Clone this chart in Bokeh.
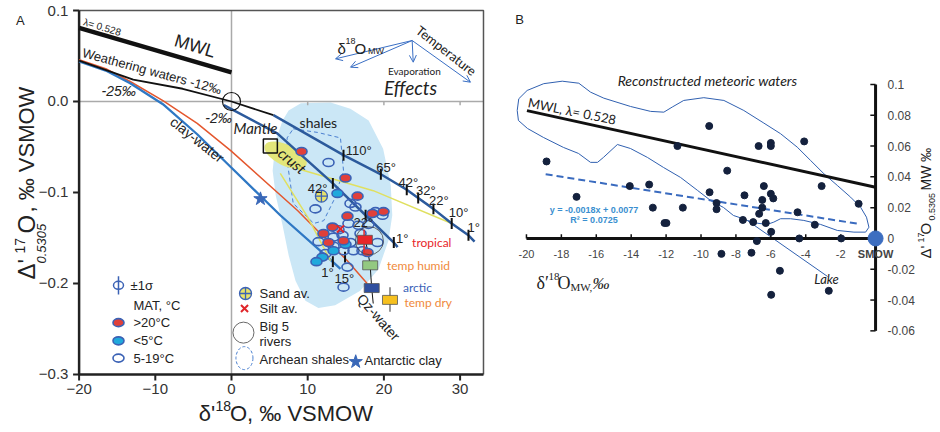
from math import pi
from bokeh.plotting import figure
from bokeh.models import Label, Arrow, OpenHead, ColumnDataSource
from bokeh.layouts import row
from bokeh.core.properties import value
from bokeh.embed import file_html
from bokeh.resources import INLINE

SANS = "Liberation Sans"
CAL = "Lato"
SERIF = "Liberation Serif"
DARKBLUE = "#2c5a9c"
RINGBLUE = "#3b62b5"

# ------------------------------------------------------------------ Panel A data
a_xmin, a_xmax, a_ymin, a_ymax = -20.0, 33.07, -0.3, 0.1
a_xticks = [-20, -10, 0, 10, 20, 30]
a_xlabels = ["\u221220", "\u221210", "0", "10", "20", "30"]
a_yticks = [-0.3, -0.2, -0.1, 0.0, 0.1]
a_ylabels = ["\u22120.3", "\u22120.2", "\u22120.1", "0.0", "0.1"]

mwl_x = [-20.0, 0.0]
mwl_y = [0.081, 0.032]

weather_x = [-20.0, -12.9, -6.4, 0.0, 5.5]
weather_y = [0.045, 0.024, 0.014, 0.0, -0.015]

upper_x = [5.5, 14.7, 19.6, 23.0, 24.5, 26.5, 28.9, 31.1, 31.9]
upper_y = [-0.015, -0.059, -0.080, -0.097, -0.106, -0.118, -0.134, -0.147, -0.154]
upper_tick_x = [14.7, 19.6, 23.0, 24.5, 26.5, 28.9, 31.1]
upper_tick_y = [-0.059, -0.080, -0.097, -0.106, -0.118, -0.134, -0.147]
upper_tick_lab = ["110°", "65°", "42°", "32°", "22°", "10°", "1°"]
upper_lab_x = [16.7, 20.3, 23.2, 25.5, 27.2, 29.8, 31.8]
upper_lab_y = [-0.054, -0.072, -0.089, -0.098, -0.109, -0.122, -0.138]

mid_x = [-1.0, 6.0, 13.3, 17.6, 21.3, 21.8]
mid_y = [-0.004, -0.035, -0.090, -0.125, -0.155, -0.160]
mid_tick_x = [13.3, 17.6, 21.3]
mid_tick_y = [-0.090, -0.125, -0.155]
mid_tick_lab = ["42°", "22°", "1°"]
mid_lab_x = [11.3, 17.3, 22.4]
mid_lab_y = [-0.096, -0.133, -0.151]

red_line_x = [-20.0, -16.5, -13.3, -9.0, -4.5, -0.1, 8.7, 15.2, 17.8]
red_line_y = [0.046, 0.036, 0.022, 0.001, -0.024, -0.054, -0.120, -0.175, -0.200]
clay_x = [-20.0, -16.5, -13.3, -9.0, -4.5, -0.1, 6.4, 13.4, 14.3]
clay_y = [0.044, 0.034, 0.020, -0.003, -0.036, -0.072, -0.125, -0.177, -0.184]
low_tick_x = [13.3, 14.9]
low_tick_y = [-0.176, -0.171]
low_tick_lab = ["1°", "15°"]
low_lab_x = [12.6, 14.8]
low_lab_y = [-0.188, -0.195]

yel1_x = [8.7, 18.6, 28.9]
yel1_y = [-0.074, -0.098, -0.134]
yel2_x = [6.4, 10.0, 13.0]
yel2_y = [-0.079, -0.127, -0.175]

shade_x = [7.5, 9.1, 13.0, 15.6, 18.0, 19.9, 20.9, 21.1, 20.6, 19.3, 16.9, 13.6,
           11.4, 9.7, 8.4, 7.5, 6.7, 5.8, 5.4, 5.8, 6.7]
shade_y = [-0.010, -0.002, -0.001, -0.008, -0.021, -0.052, -0.092, -0.125, -0.153,
           -0.184, -0.208, -0.224, -0.227, -0.219, -0.197, -0.169, -0.136, -0.103,
           -0.076, -0.043, -0.021]

arch_x = [8.1, 11.3, 14.3, 14.7, 13.4, 12.1, 10.8, 8.1, 7.3, 7.3, 8.1]
arch_y = [-0.030, -0.034, -0.040, -0.076, -0.109, -0.131, -0.134, -0.112, -0.065, -0.040, -0.030]

red_x = [9.19, 14.96, 16.54, 15.22, 19.95, 18.50, 13.25, 12.07, 12.73, 14.70, 17.85]
red_y = [-0.055, -0.084, -0.104, -0.126, -0.121, -0.123, -0.138, -0.145, -0.155, -0.153, -0.166]
cyan_x = [13.91, 11.94, 11.15, 14.96, 13.39]
cyan_y = [-0.101, -0.171, -0.176, -0.157, -0.164]
open_x = [12.73, 15.62, 16.27, 11.02, 18.90, 19.82, 15.35, 16.67, 17.98, 13.39, 14.57,
          15.62, 16.93, 16.01, 14.70, 13.39, 12.34, 17.19, 19.16, 15.22, 14.70, 14.04, 11.42]
open_y = [-0.067, -0.112, -0.116, -0.118, -0.121, -0.125, -0.134, -0.136, -0.135, -0.149,
          -0.147, -0.155, -0.145, -0.164, -0.164, -0.159, -0.167, -0.164, -0.155, -0.182,
          -0.204, -0.141, -0.154]

clim_x = [17.5, 18.2, 18.4, 20.8]
clim_y = [-0.152, -0.180, -0.205, -0.218]
clim_col = ["#e8262a", "#93c981", "#2f4f9f", "#f6c01e"]
clim_lab = ["tropical", "temp humid", "arctic", "temp dry"]
clim_lab_col = ["#e8262a", "#f08a3c", "#3a5fb8", "#f08a3c"]
clim_lab_x = [23.7, 20.4, 22.5, 22.7]
clim_lab_y = [-0.155, -0.180, -0.204, -0.221]
qz_x = [17.5, 17.9, 18.2, 18.3, 18.4, 18.6]
qz_y = [-0.150, -0.165, -0.180, -0.193, -0.205, -0.222]

sand_x, sand_y = [11.8], [-0.104]
silt_x, silt_y = [14.3], [-0.140]
antarc_x, antarc_y = [3.8], [-0.107]
rivers_x, rivers_y = [18.1], [-0.153]

eff_x0 = [23.71, 23.71, 23.71, 23.71]
eff_y0 = [0.067, 0.067, 0.067, 0.067]
eff_x1 = [13.65, 15.62, 23.85, 31.36]
eff_y1 = [0.0469, 0.0377, 0.0432, 0.0212]

# ------------------------------------------------------------------ Panel B data
b_xticks = [-20, -18, -16, -14, -12, -10, -8, -6, -4, -2]
b_xlabels = ["-20", "-18", "-16", "-14", "-12", "-10", "-8", "-6", "-4", "-2"]
b_yticks = [-0.06, -0.04, -0.02, 0.0, 0.02, 0.04, 0.06, 0.08, 0.1]
b_ylabels = ["-0.06", "-0.04", "-0.02", "0", "0.02", "0.04", "0.06", "0.08", "0.1"]

mw_x = [-18.85, -17.13, -14.08, -12.97, -12.76, -11.04, -11.35, -9.53, -9.51, -9.11,
        -9.11, -8.50, -7.51, -6.70, -6.00, -6.00, -6.40, -6.00, -5.86, -6.49, -6.49,
        -6.67, -3.09, -4.09, -4.47, -0.97, -12.09, -11.98, -7.60, -7.01, -6.29, -5.98,
        -3.48, -1.97, -4.37, -6.80, -8.83, -7.11, -5.48, -2.68, -5.98]
mw_y = [0.050, 0.027, 0.034, 0.035, 0.020, 0.020, 0.060, 0.073, 0.030, 0.023,
        0.019, 0.044, 0.028, 0.060, 0.062, 0.060, 0.034, 0.029, 0.026, 0.025, 0.020,
        0.016, 0.034, 0.063, 0.017, 0.0225, 0.010, 0.010, 0.012, 0.0106, 0.010, 0.0043,
        0.0089, 0.0, 0.0, -0.0017, -0.010, -0.0093, -0.021, -0.034, -0.0366]

b_mwl_x = [-19.97, 0.0]
b_mwl_y = [0.083, 0.0333]
fit_x = [-18.9, -1.0]
fit_y = [0.0417, 0.0095]

cont_x = [-20.53, -20.44, -19.96, -19.01, -17.95, -17.00, -16.33, -15.57, -14.04, -12.89,
          -12.13, -11.65, -10.99, -9.84, -8.69, -7.55, -6.40, -5.44, -4.49, -3.72, -2.96,
          -2.19, -1.43, -0.86, -0.52, -0.38, -0.57, -1.24, -2.19, -3.15, -4.11, -4.87,
          -5.44, -5.83, -6.21, -6.78, -7.35, -7.74, -8.14, -8.71, -9.46, -10.20, -11.17,
          -12.15, -13.07, -14.04, -14.79, -15.59, -15.93, -16.33, -17.02, -17.88, -19.03,
          -19.94, -20.46, -20.53]
cont_y = [0.0831, 0.0907, 0.0961, 0.1005, 0.1021, 0.1008, 0.0950, 0.0911, 0.0857, 0.0825,
          0.0820, 0.0853, 0.0896, 0.0914, 0.0896, 0.0831, 0.0749, 0.0680, 0.0593, 0.0506,
          0.0420, 0.0344, 0.0268, 0.0203, 0.0138, 0.0073, 0.0041, 0.0041, 0.0052, 0.0091,
          0.0117, 0.0128, 0.0128, 0.0106, 0.0091, 0.0099, 0.0117, 0.0134, 0.0149, 0.0201,
          0.0247, 0.0312, 0.0396, 0.0461, 0.0526, 0.0584, 0.0610, 0.0526, 0.0494, 0.0494,
          0.0552, 0.0591, 0.0656, 0.0714, 0.0766, 0.0831]
lake_x = [-7.35, -2.75]
lake_y = [0.0117, -0.0247]


def lab(p, x, y, text, size=12, color="#222222", font=SANS, style="normal",
        align="left", baseline="middle", angle=0.0):
    p.add_layout(Label(x=x, y=y, text=text, text_font_size=f"{size}px",
                       text_color=color, text_font=font, text_font_style=style,
                       text_align=align, text_baseline=baseline, angle=angle))


# ================================================================== Panel A
pa = figure(width=490, height=432, x_range=(-30.315, 33.990), y_range=(-0.36374, 0.11099),
            output_backend="svg", toolbar_location=None, x_axis_type=None, y_axis_type=None,
            min_border=0)
pa.outline_line_color = None

# shaded region & archean outline
pa.patch(shade_x, shade_y, fill_color="#cbe7f6", line_color=None)
pa.line(arch_x, arch_y, line_color="#4a7fd0", line_width=1, line_dash="4 3")

# reference cross lines at 0
pa.line([a_xmin, a_xmax], [0, 0], line_color="#aaaaaa", line_width=1.5)
pa.line([0, 0], [a_ymin, a_ymax], line_color="#aaaaaa", line_width=1.5)
pa.segment(x0=[10, 20, 30], y0=[0, 0, 0], x1=[10, 20, 30], y1=[-0.004, -0.004, -0.004],
           line_color="#aaaaaa", line_width=1.5)

# frame and axes
pa.line([a_xmin, a_xmax, a_xmax], [a_ymax, a_ymax, a_ymin], line_color="#555555", line_width=1.5)
pa.line([a_xmin, a_xmin, a_xmax], [a_ymax, a_ymin, a_ymin], line_color="#222222", line_width=2.5)
pa.segment(x0=a_xticks, y0=[a_ymin] * 6, x1=a_xticks, y1=[a_ymin - 0.0066] * 6,
           line_color="#222222", line_width=2)
pa.segment(x0=[a_xmin] * 5, y0=a_yticks, x1=[a_xmin - 0.79] * 5, y1=a_yticks,
           line_color="#222222", line_width=2)
pa.text(x=a_xticks, y=[-0.3154] * 6, text=a_xlabels, text_align="center", text_baseline="middle",
        text_font=value(SANS), text_font_size="15px", text_color="#333333")
pa.text(x=[-21.4] * 5, y=a_yticks, text=a_ylabels, text_align="right", text_baseline="middle",
        text_font=value(SANS), text_font_size="15px", text_color="#333333")

# crust blob
pa.ellipse(x=[7.1], y=[-0.059], width=46, height=21, width_units="screen",
           height_units="screen", angle=-0.45, fill_color="#e3e67a", line_color=None)

# lines
pa.line(mwl_x, mwl_y, line_color="#111111", line_width=4.5)
pa.line(red_line_x, red_line_y, line_color="#e4572e", line_width=1.5)
pa.line(clay_x, clay_y, line_color="#2f78c4", line_width=2.3)
pa.line(yel1_x, yel1_y, line_color="#e0e060", line_width=1.5)
pa.line(yel2_x, yel2_y, line_color="#e0e060", line_width=1.5)
pa.line(mid_x, mid_y, line_color=DARKBLUE, line_width=2.5)
pa.line(upper_x, upper_y, line_color=DARKBLUE, line_width=2.5)
pa.line(weather_x, weather_y, line_color="#111111", line_width=1.8)
pa.line(qz_x, qz_y, line_color="#111111", line_width=1)

pa.rect(x=[5.1], y=[-0.049], width=14, height=14, width_units="screen",
        height_units="screen", fill_color=None, line_color="#111111", line_width=1.5)
pa.ellipse(x=[0], y=[0], width=18, height=18, width_units="screen", height_units="screen",
           fill_color=None, line_color="#111111", line_width=1.2)

# temperature ticks
for tx, ty in ((upper_tick_x, upper_tick_y), (mid_tick_x, mid_tick_y), (low_tick_x, low_tick_y)):
    pa.segment(x0=tx, y0=[v + 0.006 for v in ty], x1=tx, y1=[v - 0.006 for v in ty],
               line_color="#111111", line_width=2)

# data points
pa.ellipse(x=open_x, y=open_y, width=11, height=8, width_units="screen", height_units="screen",
           fill_color=None, line_color=RINGBLUE, line_width=1.6)
pa.ellipse(x=cyan_x, y=cyan_y, width=11, height=8, width_units="screen", height_units="screen",
           fill_color="#20a9dc", line_color=RINGBLUE, line_width=1.6)
pa.ellipse(x=red_x, y=red_y, width=11, height=8, width_units="screen", height_units="screen",
           fill_color="#e0403a", line_color=RINGBLUE, line_width=1.6)
pa.scatter(sand_x, sand_y, marker="circle_cross", size=12, fill_color="#e8e26a",
           line_color=RINGBLUE, line_width=1.3)
pa.scatter(silt_x, silt_y, marker="x", size=10, line_color="#e0262a", line_width=2)
pa.scatter(antarc_x, antarc_y, marker="star", size=14, fill_color="#3a68b8", line_color="#3a68b8")

# big rivers circle and climate squares
pa.ellipse(x=rivers_x, y=rivers_y, width=28, height=28, width_units="screen",
           height_units="screen", fill_color=None, line_color="#444444", line_width=0.8)
pa.segment(x0=[17.4, 20.8], y0=[-0.141, -0.204], x1=[17.4, 20.8], y1=[-0.167, -0.231],
           line_color=["#e8262a", "#777777"], line_width=1.5)
pa.rect(x=clim_x, y=clim_y, width=15, height=9, width_units="screen", height_units="screen",
        fill_color=clim_col, line_color="#555555", line_width=0.8)
for x, y, t, c in zip(clim_lab_x, clim_lab_y, clim_lab, clim_lab_col):
    lab(pa, x, y, t, size=12, color=c, font=CAL)

# effects arrows
eff_src = ColumnDataSource(dict(x0=eff_x0, y0=eff_y0, x1=eff_x1, y1=eff_y1))
pa.add_layout(Arrow(end=OpenHead(size=7, line_color="#3a6fc4", line_width=1),
                    source=eff_src, x_start="x0", y_start="y0", x_end="x1", y_end="y1",
                    line_color="#3a6fc4", line_width=1))

# legend symbols (lower left)
leg_x = [-14.83, -14.83, -14.83]
leg_y = [-0.243, -0.263, -0.282]
pa.ellipse(x=[-14.83], y=[-0.202], width=10, height=8, width_units="screen",
           height_units="screen", fill_color=None, line_color=RINGBLUE, line_width=1.5)
pa.segment(x0=[-14.83], y0=[-0.192], x1=[-14.83], y1=[-0.212], line_color=RINGBLUE, line_width=1.5)
pa.ellipse(x=leg_x, y=leg_y, width=11, height=8, width_units="screen", height_units="screen",
           fill_color=["#e0403a", "#20a9dc", None], line_color=RINGBLUE, line_width=1.6)
pa.scatter([1.84], [-0.211], marker="circle_cross", size=12, fill_color="#e8e26a",
           line_color=RINGBLUE, line_width=1.3)
pa.scatter([1.71], [-0.2275], marker="x", size=10, line_color="#e0262a", line_width=2)
pa.ellipse(x=[1.57], y=[-0.254], width=21, height=21, width_units="screen",
           height_units="screen", fill_color=None, line_color="#444444", line_width=0.8)
pa.ellipse(x=[1.7], y=[-0.282], width=17, height=23, width_units="screen",
           height_units="screen", fill_color=None, line_color="#4a7fd0", line_width=1,
           line_dash="3 2")
pa.scatter([16.3], [-0.286], marker="star", size=14, fill_color="#3a68b8", line_color="#3a68b8")

lab(pa, -13.25, -0.202, "±1σ", size=13)
lab(pa, -12.86, -0.224, "MAT, °C", size=13)
lab(pa, -12.86, -0.243, ">20°C", size=13)
lab(pa, -12.86, -0.263, "<5°C", size=13)
lab(pa, -12.86, -0.282, "5-19°C", size=13)
lab(pa, 3.67, -0.211, "Sand av.", size=13)
lab(pa, 3.67, -0.2275, "Silt av.", size=13)
lab(pa, 3.67, -0.247, "Big 5", size=13)
lab(pa, 3.67, -0.264, "rivers", size=13)
lab(pa, 3.67, -0.2835, "Archean shales", size=13)
lab(pa, 17.45, -0.285, "Antarctic clay", size=13)

# line labels
lab(pa, -19.6, 0.082, "λ= 0.528", size=10, baseline="bottom", angle=-0.29)
lab(pa, -7.8, 0.057, "MWL", size=18, baseline="bottom", angle=-0.29)
lab(pa, -19.8, 0.046, "Weathering waters -12‰", size=13, baseline="bottom", angle=-0.265)
lab(pa, -14.8, 0.012, "-25‰", size=14, style="italic", align="center")
lab(pa, -1.7, -0.0176, "-2‰", size=14, style="italic", align="center")
lab(pa, 3.15, -0.029, "Mantle", size=15, style="italic", align="center", font=CAL)
lab(pa, 8.0, -0.065, "crust", size=15, style="italic", align="center", angle=-0.7, font=CAL)
lab(pa, 11.4, -0.023, "shales", size=14, align="center", font=CAL)
lab(pa, -4.5, -0.042, "clay-water", size=14, align="center", angle=-0.67)
lab(pa, 19.3, -0.237, "Qz-water", size=14, align="center", angle=-0.85)
for xs, ys, ts in ((upper_lab_x, upper_lab_y, upper_tick_lab), (mid_lab_x, mid_lab_y, mid_tick_lab),
                   (low_lab_x, low_lab_y, low_tick_lab)):
    for x, y, t in zip(xs, ys, ts):
        lab(pa, x, y, t, size=13, align="center")

# effects texts
lab(pa, 13.9, 0.058, "δ", size=15, baseline="alphabetic")
lab(pa, 14.95, 0.066, "18", size=9, baseline="alphabetic")
lab(pa, 16.15, 0.058, "O", size=15, baseline="alphabetic")
lab(pa, 17.9, 0.055, "MW", size=9, baseline="alphabetic")
lab(pa, 28.2, 0.056, "Temperature", size=13, align="center", angle=-0.66, font=CAL)
lab(pa, 24.0, 0.034, "Evaporation", size=10, align="center", font=CAL)
lab(pa, 23.5, 0.0154, "Effects", size=19, style="italic", align="center", font=CAL)

# panel letter and axis titles
lab(pa, -27.7, 0.089, "A", size=13, align="center")
lab(pa, -26.9, -0.1956, "Δ'", size=24, angle=pi / 2)
lab(pa, -27.8, -0.167, "17", size=14, angle=pi / 2)
lab(pa, -26.9, -0.145, "O", size=24, angle=pi / 2)
lab(pa, -24.9, -0.178, "0.5305", size=13, style="italic", angle=pi / 2)
lab(pa, -26.9, -0.122, ", ‰ VSMOW", size=22, angle=pi / 2)
lab(pa, -4.3, -0.3430, "δ'", size=22, baseline="middle")
lab(pa, -2.1, -0.3345, "18", size=14, baseline="middle")
lab(pa, -0.2, -0.3430, "O, ‰ VSMOW", size=22, baseline="middle")

# ================================================================== Panel B
pb = figure(width=450, height=432, x_range=(-22.06, 3.72), y_range=(-0.126, 0.1545),
            output_backend="svg", toolbar_location=None, x_axis_type=None, y_axis_type=None,
            min_border=0)
pb.outline_line_color = None

pb.line(cont_x, cont_y, line_color="#3060b0", line_width=1)
pb.line(lake_x, lake_y, line_color="#3060b0", line_width=1)
pb.line(b_mwl_x, b_mwl_y, line_color="#111111", line_width=3)
pb.line(fit_x, fit_y, line_color="#3a6bbf", line_width=2, line_dash="7 4")

# axes drawn at the origin
pb.line([-20, 0], [0, 0], line_color="#111111", line_width=3)
pb.line([0, 0], [-0.06, 0.1], line_color="#111111", line_width=3)
pb.segment(x0=b_xticks, y0=[0] * len(b_xticks), x1=b_xticks, y1=[0.0028] * len(b_xticks),
           line_color="#111111", line_width=1.5)
pb.segment(x0=[0] * len(b_yticks), y0=b_yticks, x1=[-0.3] * len(b_yticks), y1=b_yticks,
           line_color="#111111", line_width=1.5)
pb.text(x=b_xticks, y=[-0.0098] * len(b_xticks), text=b_xlabels, text_align="center",
        text_baseline="middle", text_font=value(SANS), text_font_size="11px", text_color="#444444")
pb.text(x=[0.69] * len(b_yticks), y=b_yticks, text=b_ylabels, text_align="left",
        text_baseline="middle", text_font=value(SANS), text_font_size="12px", text_color="#444444")
lab(pb, 0.0, -0.0098, "SMOW", size=11, align="center", style="bold", color="#444444")

pb.scatter(mw_x, mw_y, size=7, fill_color="#14213d", line_color="#14213d")
pb.scatter([0], [0], size=15, fill_color="#3d6ec0", line_color="#3d6ec0")

lab(pb, -20.4, 0.142, "B", size=13, align="center")
lab(pb, -9.63, 0.1026, "Reconstructed meteoric waters", size=14, style="italic",
    align="center", font=CAL)
lab(pb, -19.9, 0.0885, "MWL, λ= 0.528", size=13, baseline="alphabetic", angle=-0.2, font=CAL)
lab(pb, -16.13, 0.0182, "y = -0.0018x + 0.0077", size=9, style="bold", align="center",
    color="#3a8fd0")
lab(pb, -16.13, 0.0121, "R² = 0.0725", size=9, style="bold", align="center", color="#3a8fd0")
lab(pb, -2.81, -0.0266, "Lake", size=13, style="italic", align="center", font=CAL)

lab(pb, -19.43, -0.0292, "δ′", size=18, baseline="alphabetic", font=SERIF)
lab(pb, -18.74, -0.0247, "18", size=11, baseline="alphabetic", font=SERIF)
lab(pb, -18.22, -0.0292, "O", size=18, baseline="alphabetic", font=SERIF)
lab(pb, -17.48, -0.0318, "MW,", size=11, baseline="alphabetic", font=SERIF)
lab(pb, -16.22, -0.0292, "‰", size=17, baseline="alphabetic", font=SERIF, style="italic")

lab(pb, 2.87, -0.013, "Δ'", size=15, angle=pi / 2)
lab(pb, 2.58, -0.0026, "17", size=9, angle=pi / 2)
lab(pb, 2.87, 0.0026, "O", size=15, angle=pi / 2)
lab(pb, 3.21, 0.0117, "0.5305", size=9, angle=pi / 2)
lab(pb, 2.87, 0.0312, "MW ‰", size=14, angle=pi / 2)

layout = row(pa, pb)
open("out.html", "w").write(file_html(layout, INLINE))
